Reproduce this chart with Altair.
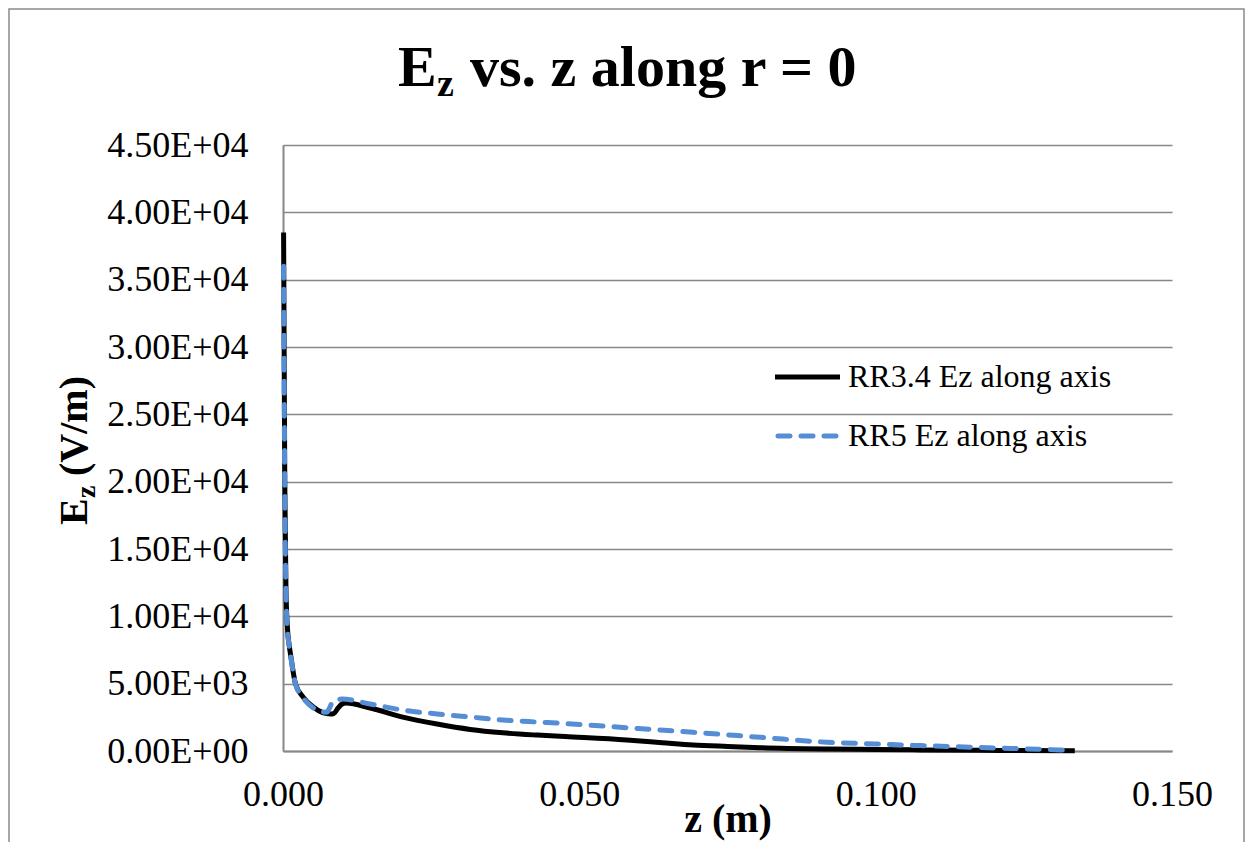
import altair as alt
import pandas as pd

FONT = "Liberation Serif"

# ---- data ----
series_names = ["RR3.4 Ez along axis", "RR5 Ez along axis"]
series_colors = ["#000000", "#558ED5"]

z_rr34 = [0.0001, 0.0003, 0.0005, 0.0008, 0.0010, 0.0014, 0.0021, 0.0034, 0.0051,
          0.0067, 0.0080, 0.0086, 0.0093, 0.0100, 0.0106, 0.0147, 0.0202, 0.0260,
          0.0316, 0.0371, 0.0429, 0.0476, 0.0580, 0.0640, 0.0692, 0.0750, 0.0805,
          0.0918, 0.1000, 0.1075, 0.1210, 0.1336]
ez_rr34 = [38500, 20000, 12000, 8800, 8000, 6800, 5000, 4000, 3270,
           2850, 2750, 2800, 3200, 3500, 3560, 3190, 2520, 2000,
           1600, 1350, 1180, 1070, 820, 620, 450, 340, 250,
           150, 110, 80, 45, 20]

z_rr5 = [0.0001, 0.0003, 0.0005, 0.0008, 0.0010, 0.0014, 0.0021, 0.0034, 0.0051,
         0.0065, 0.0074, 0.0078, 0.0083, 0.0090, 0.0100, 0.0147, 0.0202, 0.0260,
         0.0316, 0.0371, 0.0429, 0.0467, 0.0580, 0.0692, 0.0805, 0.0918, 0.1000,
         0.1075, 0.1188, 0.1311, 0.1325]
ez_rr5 = [36000, 19500, 11800, 8700, 7950, 6750, 5000, 3950, 3200,
          2900, 2880, 3150, 3600, 3800, 3860, 3490, 3040, 2750,
          2520, 2300, 2150, 2060, 1730, 1390, 1020, 650, 520,
          400, 245, 75, 50]

x_ticks = [0.0, 0.05, 0.10, 0.15]
y_ticks = [0, 5000, 10000, 15000, 20000, 25000, 30000, 35000, 40000, 45000]

title_parts = ["E", "z", "vs. z along r = 0"]
ytitle_parts = ["E", "z", "(V/m)"]
x_title = "z (m)"

df34 = pd.DataFrame({"z": z_rr34, "Ez": ez_rr34, "series": series_names[0]})
df5 = pd.DataFrame({"z": z_rr5, "Ez": ez_rr5, "series": series_names[1]})

GRAY = "#878787"

x_enc = alt.X(
    "z:Q",
    scale=alt.Scale(domain=[0, 0.15], nice=False, zero=False),
    axis=alt.Axis(
        values=x_ticks, format=".3f", title=x_title, grid=False, ticks=False, tickSize=0,
        labelPadding=26, labelFont=FONT, labelFontSize=36, labelColor="black",
        labelFlush=False, labelOverlap=False,
        domainColor=GRAY, domainWidth=2,
        titleFont=FONT, titleFontSize=40, titleFontWeight="bold", titleColor="black",
        titleY=80, titleBaseline="alphabetic",
    ),
)
y_enc = alt.Y(
    "Ez:Q",
    scale=alt.Scale(domain=[0, 45000], nice=False),
    axis=alt.Axis(
        values=y_ticks, title=None, grid=True, gridColor=GRAY, gridWidth=1.5,
        ticks=False, tickSize=0, labelPadding=35, labelFlush=False, labelOverlap=False,
        labelExpr="replace(upper(format(datum.value, '.2e')), 'E+', 'E+0')",
        labelFont=FONT, labelFontSize=36, labelColor="black",
        domainColor=GRAY, domainWidth=2,
    ),
)

line34 = alt.Chart(df34).mark_line(
    color=series_colors[0], strokeWidth=5, interpolate="monotone", strokeCap="butt"
).encode(x=x_enc, y=y_enc)

line5 = alt.Chart(df5).mark_line(
    color=series_colors[1], strokeWidth=5, interpolate="monotone",
    strokeDash=[12, 11], strokeCap="round"
).encode(x="z:Q", y="Ez:Q")


def text_at(text, x, y, size, weight="normal", angle=0, align="left", baseline="alphabetic"):
    return alt.Chart(pd.DataFrame({"label": [text]})).mark_text(
        font=FONT, fontSize=size, fontWeight=weight, angle=angle, align=align,
        baseline=baseline, color="black"
    ).encode(x=alt.value(x), y=alt.value(y), text="label:N")


one = pd.DataFrame({"k": [0]})

# chart-area border
border = alt.Chart(one).mark_rect(
    fill=None, fillOpacity=0, stroke="#8a8a8a", strokeWidth=1.5
).encode(x=alt.value(-274), x2=alt.value(961), y=alt.value(-136), y2=alt.value(760))

# legend
leg_rule34 = alt.Chart(one).mark_rule(
    color=series_colors[0], strokeWidth=5, strokeCap="butt"
).encode(x=alt.value(492), x2=alt.value(557), y=alt.value(232))
leg_rule5 = alt.Chart(one).mark_rule(
    color=series_colors[1], strokeWidth=5, strokeDash=[12, 11], strokeCap="round"
).encode(x=alt.value(495), x2=alt.value(555), y=alt.value(291))
leg_text34 = text_at(series_names[0], 565, 232, 32, baseline="middle")
leg_text5 = text_at(series_names[1], 565, 291, 32, baseline="middle")

# title with subscript
t1 = text_at(title_parts[0], 115, -59, 58, weight="bold")
t2 = text_at(title_parts[1], 154, -49, 38, weight="bold")
t3 = text_at(title_parts[2], 187, -59, 58, weight="bold")

# y-axis title with subscript (rotated)
y1 = text_at(ytitle_parts[0], -196, 380, 40, weight="bold", angle=270)
y2 = text_at(ytitle_parts[1], -188, 353, 28, weight="bold", angle=270)
y3 = text_at(ytitle_parts[2], -196, 331, 40, weight="bold", angle=270)

chart = alt.layer(
    border, line34, line5, leg_rule34, leg_rule5, leg_text34, leg_text5,
    t1, t2, t3, y1, y2, y3
).properties(
    width=889, height=606,
    autosize=alt.AutoSizeParams(type="none"),
    padding={"left": 275, "top": 137, "right": 73, "bottom": 91},
    background="white",
).configure_view(stroke=None)

chart.save("out.html", embed_options={"renderer": "svg", "actions": False})
